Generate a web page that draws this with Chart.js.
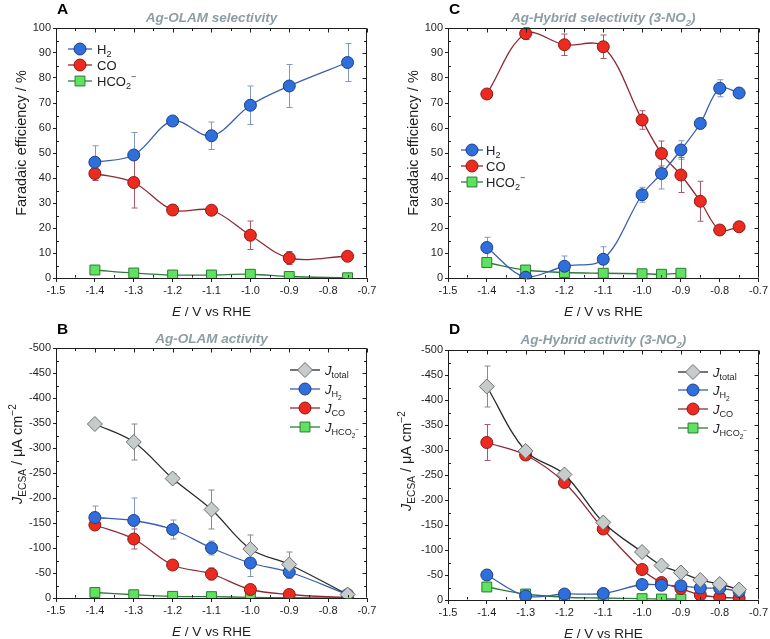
<!DOCTYPE html>
<html>
<head>
<meta charset="utf-8">
<script src="https://cdn.jsdelivr.net/npm/chart.js@4.4.1/dist/chart.umd.min.js"></script>
<style>
    body { margin: 0; background: #fff; width: 770px; height: 639px; position: relative; overflow: hidden; }
    canvas { position: absolute; }
</style>
</head>
<body>
<canvas id="chartA" width="385" height="320" style="left:0;top:0"></canvas>
<canvas id="chartC" width="385" height="320" style="left:385px;top:0"></canvas>
<canvas id="chartB" width="385" height="319" style="left:0;top:320px"></canvas>
<canvas id="chartD" width="385" height="319" style="left:385px;top:320px"></canvas>
<script>
// potentials (V vs RHE)
const potentialsOlam = [-1.4, -1.3, -1.2, -1.1, -1.0, -0.9, -0.75]
const potentialsHybrid = [-1.4, -1.3, -1.2, -1.1, -1.0, -0.95, -0.9, -0.85, -0.8, -0.75]
const potentialsHybridFormate = [-1.4, -1.3, -1.2, -1.1, -1.0, -0.95, -0.9]

// tick labels
const xTickValues = [-1.5, -1.4, -1.3, -1.2, -1.1, -1.0, -0.9, -0.8, -0.7]
const feTickValues = [0, 10, 20, 30, 40, 50, 60, 70, 80, 90, 100]
const jTickValues = [0, -50, -100, -150, -200, -250, -300, -350, -400, -450, -500]

// A - Ag-OLAM faradaic efficiency (%)
const olamFeH2 = [46.3, 49.2, 62.8, 56.9, 69.1, 76.8, 86.2]
const olamFeH2Err = [6.6, 9.0, 1.0, 5.5, 7.7, 8.6, 7.6]
const olamFeCO = [41.8, 38.2, 27.2, 27.1, 17.1, 8.0, 8.7]
const olamFeCOErr = [2.8, 10.2, 2.0, 1.0, 5.7, 2.6, 1.5]
const olamFeFormate = [3.2, 2.0, 1.2, 1.2, 1.5, 0.6, 0.1]
const olamFeFormateErr = [1.6, 1.0, 0.8, 0.8, 0.9, 0.5, 0.2]

// C - Ag-Hybrid faradaic efficiency (%)
const hybridFeH2 = [12.2, 0.3, 4.7, 7.5, 33.3, 41.8, 51.2, 61.8, 75.9, 74.0]
const hybridFeH2Err = [4.1, 0.8, 4.1, 5.0, 3.0, 6.2, 3.7, 1.0, 3.4, 1.0]
const hybridFeCO = [73.6, 97.8, 93.3, 92.5, 63.2, 49.8, 41.2, 30.7, 19.2, 20.5]
const hybridFeCOErr = [1.0, 2.4, 4.3, 4.7, 3.7, 5.0, 7.0, 8.0, 1.0, 1.8]
const hybridFeFormate = [6.2, 3.2, 2.2, 1.9, 1.7, 1.5, 1.9]
const hybridFeFormateErr = [1.5, 1.2, 1.2, 1.1, 1.0, 1.0, 1.2]

// B - Ag-OLAM partial current densities (uA cm-2)
const olamJTotal = [-348, -312, -239, -177, -98, -67, -7]
const olamJTotalErr = [4, 36, 10, 39, 28, 25, 2]
const olamJH2 = [-161, -155, -137, -100, -70, -52, -7]
const olamJH2Err = [23, 45, 19, 14, 27, 13, 2]
const olamJCO = [-146, -118, -66, -48, -17, -7, -0.6]
const olamJCOErr = [8, 20, 3, 12, 5, 2, 0.5]
const olamJFormate = [-11, -6.5, -3.3, -2.7, -1.3, -0.5, -0.1]
const olamJFormateErr = [3, 2, 1.5, 1.5, 1, 0.5, 0.2]

// D - Ag-Hybrid partial current densities (uA cm-2)
const hybridJTotal = [-427, -298, -251, -155, -96, -69, -55, -40, -32, -21]
const hybridJTotalErr = [41, 4, 4, 4, 3, 3, 3, 3, 3, 3]
const hybridJH2 = [-50, -8, -12, -13, -31, -29.5, -28.5, -24, -23.5, -17]
const hybridJH2Err = [10, 2, 8, 3, 3, 3, 3, 3, 3, 3]
const hybridJCO = [-315, -290, -235, -142, -61, -35, -23, -10, -5.5, -3.5]
const hybridJCOErr = [36, 3, 3, 3, 3, 3, 3, 2, 2, 2]
const hybridJFormate = [-26, -12, -5.5, -4, -2.7, -2, -2]
const hybridJFormateErr = [5, 3, 2, 2, 1, 1, 1]


const FONT = "'Liberation Sans', Arial, sans-serif"
const INK = '#1e1e1e'
const TITLE_GRAY = '#8d9da4'

const styles = {
    h2: {line: '#3a5fae', fill: '#2f6fdc', border: '#1d3f86', err: '#7f98c8', shape: 'circle', r: 6},
    co: {line: '#8c2b37', fill: '#ec2a1f', border: '#8c1a14', err: '#a85868', shape: 'circle', r: 6},
    formate: {line: '#2f7a3c', fill: '#5fe25f', border: '#2e7a34', err: '#2f6a3a', shape: 'rect', r: 7},
    total: {line: '#2a2a2a', fill: '#c6cbcb', border: '#6b6f6f', err: '#8a8a8a', shape: 'rectRot', r: 7.5},
}

// rich text parts: [text, flags, position]
const POS = {sub: [0.7, 0.28], sup: [0.7, -0.42], sub2: [0.5, 0.45], subsup: [0.5, 0.02]}

const labelH2 = [['H'], ['2', '', 'sub']]
const labelCO = [['CO']]
const labelFormate = [['HCO'], ['2', '', 'sub'], ['\u2212', '', 'sup']]
const labelJTotal = [['J', 'i'], ['total', '', 'sub']]
const labelJH2 = [['J', 'i'], ['H', '', 'sub'], ['2', '', 'sub2']]
const labelJCO = [['J', 'i'], ['CO', '', 'sub']]
const labelJFormate = [['J', 'i'], ['HCO', '', 'sub'], ['2', '', 'sub2'], ['\u2212', '', 'subsup']]

const feAxisTitle = [['Faradaic efficiency / %']]
const jAxisTitle = [['J', 'i'], ['ECSA', '', 'sub'], [' / \u03bcA cm'], ['\u22122', '', 'sup']]
const xAxisTitle = [['E', 'i'], [' / V vs RHE']]


function drawRich(ctx, parts, x, y, size, align, base, color) {
    const items = parts.map(p => {
        const pos = POS[p[2]] || [1, 0]
        const fl = base + (p[1] || '')
        const fs = size * pos[0]
        const font = (fl.includes('i') ? 'italic ' : '') + (fl.includes('b') ? 'bold ' : '') + fs + 'px ' + FONT
        ctx.font = font
        return {t: p[0], font: font, dy: pos[1] * size, w: ctx.measureText(p[0]).width}
    })
    const total = items.reduce((a, b) => a + b.w, 0)
    let cx = align === 'center' ? x - total / 2 : (align === 'right' ? x - total : x)
    ctx.fillStyle = color
    ctx.textAlign = 'left'
    ctx.textBaseline = 'alphabetic'
    const by = y + size * 0.36
    items.forEach(it => {
        ctx.font = it.font
        ctx.fillText(it.t, cx, by + it.dy)
        cx += it.w
    })
}

function series(xs, ys, errs, kind, legend) {
    const st = styles[kind]
    return {
        data: xs.map((x, i) => ({x: x, y: ys[i]})),
        errors: errs,
        kind: kind,
        legendParts: legend,
        borderColor: st.line,
        borderWidth: 1.3,
        tension: 0.35,
        fill: false,
        pointStyle: st.shape,
        pointRadius: st.r,
        pointHoverRadius: st.r,
        pointBackgroundColor: st.fill,
        pointBorderColor: st.border,
        pointBorderWidth: 1,
    }
}

const errorBars = {
    id: 'errorBars',
    beforeDatasetsDraw(chart) {
        const ctx = chart.ctx
        const xs = chart.scales.x, ys = chart.scales.y
        chart.data.datasets.forEach(ds => {
            const st = styles[ds.kind]
            ctx.save()
            ctx.strokeStyle = st.err
            ctx.lineWidth = 1
            ds.data.forEach((p, i) => {
                const e = ds.errors[i]
                if (!e) return
                const px = Math.round(xs.getPixelForValue(p.x)) + 0.5
                const y1 = ys.getPixelForValue(p.y - e)
                const y2 = ys.getPixelForValue(p.y + e)
                ctx.beginPath()
                ctx.moveTo(px, y1); ctx.lineTo(px, y2)
                ctx.moveTo(px - 3, y1); ctx.lineTo(px + 3, y1)
                ctx.moveTo(px - 3, y2); ctx.lineTo(px + 3, y2)
                ctx.stroke()
            })
            ctx.restore()
        })
    }
}

const decor = {
    id: 'decor',
    afterDraw(chart) {
        const ctx = chart.ctx
        const a = chart.chartArea
        const xs = chart.scales.x, ys = chart.scales.y
        const cfg = chart.options.plugins.decor
        ctx.save()
        // frame with inward ticks on top and right
        ctx.strokeStyle = INK
        ctx.lineWidth = 1
        const L = Math.round(a.left) + 0.5, R = Math.round(a.right) - 0.5
        const T = Math.round(a.top) + 0.5, B = Math.round(a.bottom) - 0.5
        ctx.beginPath()
        ctx.moveTo(L, T); ctx.lineTo(R, T); ctx.lineTo(R, B)
        ctx.stroke()
        ctx.beginPath()
        for (let i = 0; i < xTickValues.length; i++) {
            const px = Math.round(xs.getPixelForValue(xTickValues[i])) + 0.5
            ctx.moveTo(px, T); ctx.lineTo(px, T + 4)
            if (i < xTickValues.length - 1) {
                const mx = Math.round(xs.getPixelForValue((xTickValues[i] + xTickValues[i + 1]) / 2)) + 0.5
                ctx.moveTo(mx, T); ctx.lineTo(mx, T + 2.5)
                ctx.moveTo(mx, B); ctx.lineTo(mx, B - 2.5)
            }
        }
        const yt = cfg.yTicks
        for (let i = 0; i < yt.length; i++) {
            const py = Math.round(ys.getPixelForValue(yt[i])) + 0.5
            ctx.moveTo(R, py); ctx.lineTo(R - 4, py)
            if (i < yt.length - 1) {
                const my = Math.round(ys.getPixelForValue((yt[i] + yt[i + 1]) / 2)) + 0.5
                ctx.moveTo(R, my); ctx.lineTo(R - 2.5, my)
                ctx.moveTo(L, my); ctx.lineTo(L + 2.5, my)
            }
        }
        ctx.stroke()

        // panel letter and title
        drawRich(ctx, [[cfg.letter]], a.left + 1, 8, 15.5, 'left', 'b', '#000')
        drawRich(ctx, cfg.title, (a.left + a.right) / 2, cfg.titleY, 13.5, 'center', 'bi', TITLE_GRAY)

        // axis titles
        drawRich(ctx, xAxisTitle, (a.left + a.right) / 2, cfg.xTitleY, 13.5, 'center', '', INK)
        ctx.save()
        ctx.translate(cfg.yTitleX, cfg.yTitleY)
        ctx.rotate(-Math.PI / 2)
        drawRich(ctx, cfg.yTitle, 0, 0, 14.5, 'center', '', INK)
        ctx.restore()

        // legend
        const lg = cfg.legend
        chart.data.datasets.forEach((ds, i) => {
            const st = styles[ds.kind]
            const yy = lg.rows[i]
            ctx.strokeStyle = st.line
            ctx.lineWidth = 1.3
            ctx.beginPath()
            ctx.moveTo(lg.x0, yy); ctx.lineTo(lg.x1, yy)
            ctx.stroke()
            ctx.fillStyle = st.fill
            ctx.strokeStyle = st.border
            ctx.lineWidth = 1
            Chart.helpers.drawPoint(ctx, {pointStyle: st.shape, radius: st.r, rotation: 0, borderWidth: 1}, (lg.x0 + lg.x1) / 2, yy)
            drawRich(ctx, ds.legendParts, lg.tx, yy, 13, 'left', '', INK)
        })
        ctx.restore()
    }
}

function makeChart(canvasId, opt) {
    const config = {
        type: 'line',
        data: {datasets: opt.datasets},
        plugins: [errorBars, decor],
        options: {
            responsive: false,
            animation: false,
            layout: {padding: {left: 0, top: opt.pad.top, right: opt.pad.right, bottom: 0}},
            plugins: {
                legend: {display: false},
                tooltip: {enabled: false},
                decor: opt.decor,
            },
            scales: {
                x: {
                    type: 'linear',
                    min: -1.5,
                    max: -0.7,
                    afterBuildTicks: s => { s.ticks = xTickValues.map(v => ({value: v})) },
                    afterFit: s => { s.height = opt.pad.xh },
                    ticks: {callback: v => v.toFixed(1), padding: 2, color: INK, font: {family: FONT, size: 11}, maxRotation: 0},
                    grid: {drawOnChartArea: false, tickLength: 4, color: INK},
                    border: {color: INK, width: 1},
                },
                y: {
                    type: 'linear',
                    min: opt.yMin,
                    max: opt.yMax,
                    reverse: opt.reverse,
                    afterBuildTicks: s => { s.ticks = opt.decor.yTicks.map(v => ({value: v})) },
                    afterFit: s => { s.width = opt.pad.left },
                    ticks: {callback: v => String(v), padding: 2, color: INK, font: {family: FONT, size: 11}},
                    grid: {drawOnChartArea: false, tickLength: 3, color: INK},
                    border: {color: INK, width: 1},
                },
            },
        },
    }
    return new Chart(document.getElementById(canvasId), config)
}

makeChart('chartA', {
    datasets: [
        series(potentialsOlam, olamFeH2, olamFeH2Err, 'h2', labelH2),
        series(potentialsOlam, olamFeCO, olamFeCOErr, 'co', labelCO),
        series(potentialsOlam, olamFeFormate, olamFeFormateErr, 'formate', labelFormate),
    ],
    yMin: 0, yMax: 100, reverse: false,
    pad: {left: 56, top: 28, right: 18, xh: 42},
    decor: {
        letter: 'A', title: [['Ag-OLAM selectivity']], titleY: 17,
        yTicks: feTickValues, yTitle: feAxisTitle, yTitleX: 21, yTitleY: 143, xTitleY: 311,
        legend: {x0: 68, x1: 92, tx: 97, rows: [49, 65, 81]},
    },
})

makeChart('chartC', {
    datasets: [
        series(potentialsHybrid, hybridFeH2, hybridFeH2Err, 'h2', labelH2),
        series(potentialsHybrid, hybridFeCO, hybridFeCOErr, 'co', labelCO),
        series(potentialsHybridFormate, hybridFeFormate, hybridFeFormateErr, 'formate', labelFormate),
    ],
    yMin: 0, yMax: 100, reverse: false,
    pad: {left: 63, top: 28, right: 11, xh: 42},
    decor: {
        letter: 'C', title: [['Ag-Hybrid selectivity (3-NO'], ['2', '', 'sub'], [')']], titleY: 17,
        yTicks: feTickValues, yTitle: feAxisTitle, yTitleX: 28, yTitleY: 143, xTitleY: 311,
        legend: {x0: 76, x1: 98, tx: 101, rows: [150, 166, 182]},
    },
})

makeChart('chartB', {
    datasets: [
        series(potentialsOlam, olamJTotal, olamJTotalErr, 'total', labelJTotal),
        series(potentialsOlam, olamJH2, olamJH2Err, 'h2', labelJH2),
        series(potentialsOlam, olamJCO, olamJCOErr, 'co', labelJCO),
        series(potentialsOlam, olamJFormate, olamJFormateErr, 'formate', labelJFormate),
    ],
    yMin: -500, yMax: 0, reverse: true,
    pad: {left: 56, top: 28, right: 18, xh: 41},
    decor: {
        letter: 'B', title: [['Ag-OLAM activity']], titleY: 18,
        yTicks: jTickValues, yTitle: jAxisTitle, yTitleX: 17, yTitleY: 134, xTitleY: 311,
        legend: {x0: 290, x1: 320, tx: 325, rows: [50, 69, 88, 107]},
    },
})

makeChart('chartD', {
    datasets: [
        series(potentialsHybrid, hybridJTotal, hybridJTotalErr, 'total', labelJTotal),
        series(potentialsHybrid, hybridJH2, hybridJH2Err, 'h2', labelJH2),
        series(potentialsHybrid, hybridJCO, hybridJCOErr, 'co', labelJCO),
        series(potentialsHybridFormate, hybridJFormate, hybridJFormateErr, 'formate', labelJFormate),
    ],
    yMin: -500, yMax: 0, reverse: true,
    pad: {left: 63, top: 30, right: 11, xh: 39},
    decor: {
        letter: 'D', title: [['Ag-Hybrid activity (3-NO'], ['2', '', 'sub'], [')']], titleY: 19,
        yTicks: jTickValues, yTitle: jAxisTitle, yTitleX: 21, yTitleY: 141, xTitleY: 313,
        legend: {x0: 293, x1: 323, tx: 328, rows: [52, 70, 89, 108]},
    },
})
</script>
</body>
</html>
